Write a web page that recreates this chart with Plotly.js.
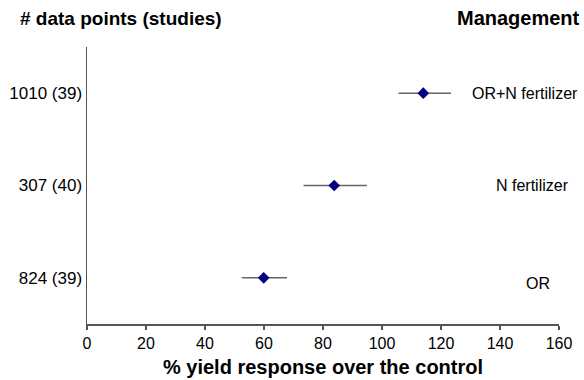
<!DOCTYPE html>
<html>
<head>
<meta charset="utf-8">
<script src="https://cdn.plot.ly/plotly-3.0.1.min.js"></script>
<style>
  html, body { margin: 0; padding: 0; background: #fff; }
  #chart { width: 584px; height: 380px; }
</style>
</head>
<body>
<div id="chart"></div>
<script>
// Management practices, bottom to top
const managements = ['OR', 'N fertilizer', 'OR+N fertilizer'];
// Number of data points and (studies) per practice
const studyCounts = ['824 (39)', '307 (40)', '1010 (39)'];
// Mean % yield response over the control
const yieldResponse = [59.9, 83.8, 114.0];
// Confidence interval bounds
const ciLow = [52.5, 73.4, 105.6];
const ciHigh = [67.8, 94.9, 123.4];
// Axis ticks
const xTicks = [0, 20, 40, 60, 80, 100, 120, 140, 160];

const rowPos = managements.map((_, i) => i + 1);
const FONT = 'Liberation Sans, Arial, Helvetica, sans-serif';

const trace = {
  type: 'scatter',
  mode: 'markers',
  x: yieldResponse,
  y: rowPos,
  marker: { symbol: 'diamond', size: 9, color: '#000080' },
  error_x: {
    type: 'data',
    symmetric: false,
    array: yieldResponse.map((v, i) => ciHigh[i] - v),
    arrayminus: yieldResponse.map((v, i) => v - ciLow[i]),
    color: '#666666',
    thickness: 1.5,
    width: 0
  },
  hoverinfo: 'x',
  showlegend: false
};

// Management names sit in the right-hand column
const labelX = [153, 151.1, 148.4];
const labelY = [0.935, 2, 3];
const annotations = managements.map((m, i) => ({
  text: m, x: labelX[i], y: labelY[i], xref: 'x', yref: 'y',
  showarrow: false, xanchor: 'center', yanchor: 'middle',
  font: { family: FONT, size: 16, color: '#000' }
}));
annotations.push({
  text: '<b># data points (studies)</b>', xref: 'paper', yref: 'paper',
  x: -0.146, y: 1.0, xanchor: 'left', yanchor: 'bottom', yshift: 16,
  showarrow: false, font: { family: FONT, size: 19, color: '#000' }
});
annotations.push({
  text: '<b>Management</b>', xref: 'paper', yref: 'paper',
  x: 1.049, y: 1.0, xanchor: 'right', yanchor: 'bottom', yshift: 16,
  showarrow: false, font: { family: FONT, size: 20, color: '#000' }
});

const layout = {
  width: 584, height: 380,
  margin: { l: 87, r: 25, t: 47, b: 56 },
  paper_bgcolor: '#fff', plot_bgcolor: '#fff',
  font: { family: FONT, size: 16, color: '#000' },
  xaxis: {
    range: [0, 160], tickvals: xTicks, ticktext: xTicks.map(String),
    showline: true, linecolor: '#555', linewidth: 1.5,
    ticks: 'outside', ticklen: 4, tickcolor: '#555', tickwidth: 1.5,
    showgrid: false, zeroline: false,
    tickfont: { family: FONT, size: 16, color: '#000' },
    title: { text: '<b>% yield response over the control</b>', font: { family: FONT, size: 20, color: '#000' }, standoff: 9 }
  },
  yaxis: {
    range: [0.5, 3.5], tickvals: rowPos, ticktext: studyCounts,
    showline: true, linecolor: '#555', linewidth: 1.5,
    ticks: '', showgrid: false, zeroline: false,
    tickfont: { family: FONT, size: 17, color: '#000' }
  },
  annotations: annotations
};

Plotly.newPlot('chart', [trace], layout, { displayModeBar: false, staticPlot: true });
</script>
</body>
</html>
